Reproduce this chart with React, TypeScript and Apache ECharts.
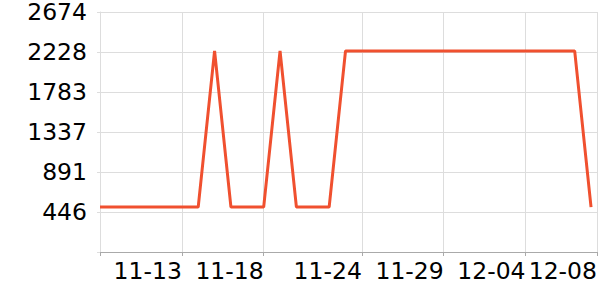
import React, { useEffect, useRef } from "react";
import * as echarts from "echarts";

const dates: string[] = [
  "2023-11-08", "2023-11-09", "2023-11-10", "2023-11-11", "2023-11-12",
  "2023-11-13", "2023-11-14", "2023-11-15", "2023-11-16", "2023-11-17",
  "2023-11-18", "2023-11-19", "2023-11-20", "2023-11-21", "2023-11-22",
  "2023-11-23", "2023-11-24", "2023-11-25", "2023-11-26", "2023-11-27",
  "2023-11-28", "2023-11-29", "2023-11-30", "2023-12-01", "2023-12-02",
  "2023-12-03", "2023-12-04", "2023-12-05", "2023-12-06", "2023-12-07",
  "2023-12-08",
];

const values: number[] = [
  500, 500, 500, 500, 500, 500, 500, 2240, 500, 500,
  500, 2240, 500, 500, 500, 2240, 2240, 2240, 2240, 2240,
  2240, 2240, 2240, 2240, 2240, 2240, 2240, 2240, 2240, 2240,
  500,
];

const tickDates: string[] = ["2023-11-13", "2023-11-18", "2023-11-24", "2023-11-29", "2023-12-04"];
const axisEndDate = "2023-12-08T08:44:00Z";

const yMax = 2674;
const ySteps = 6;

const ts = (s: string) => new Date(s.length === 10 ? s + "T00:00:00Z" : s).getTime();

export default function App() {
  const ref = useRef<HTMLDivElement>(null);
  useEffect(() => {
    if (!ref.current) return;
    document.body.style.margin = "0";
    const chart = echarts.init(ref.current, null, { renderer: "svg", width: 600, height: 300 });
    const xMin = ts(dates[0]);
    const xMax = ts(axisEndDate);
    const labelVals = [...tickDates.map(ts), xMax];
    const tickVals = [xMin, ...tickDates.map(ts), xMax];
    const fmt = (v: number) => {
      const d = new Date(v);
      const m = String(d.getUTCMonth() + 1).padStart(2, "0");
      const dd = String(d.getUTCDate()).padStart(2, "0");
      return `${m}-${dd}`;
    };
    chart.setOption({
      animation: false,
      grid: { left: 100, right: 0, top: 10, bottom: 48, containLabel: false },
      xAxis: {
        type: "value",
        min: xMin,
        max: xMax,
        axisLine: { show: true, lineStyle: { color: "#aaaaaa", width: 1 } },
        axisTick: { show: true, length: 4, lineStyle: { color: "#aaaaaa" }, customValues: tickVals },
        splitLine: { show: true, lineStyle: { color: "#dddddd", width: 1 } },
        axisLabel: {
          customValues: labelVals,
          formatter: (v: number) => fmt(v),
          align: "right",
          color: "#000",
          fontSize: 23.5,
          fontFamily: "DejaVu Sans",
          margin: 7,
        },
      },
      yAxis: {
        type: "value",
        min: 0,
        max: yMax,
        interval: yMax / ySteps,
        axisLine: { show: true, lineStyle: { color: "#dddddd" } },
        axisTick: { show: true, length: 3, lineStyle: { color: "#dddddd" } },
        splitLine: { show: true, lineStyle: { color: "#dddddd" } },
        axisLabel: {
          formatter: (v: number) => (v === 0 ? "" : String(Math.round(v))),
          color: "#000",
          fontSize: 23.5,
          fontFamily: "DejaVu Sans",
          margin: 13,
        },
      },
      series: [
        {
          type: "line",
          data: dates.map((d, i) => [ts(d), values[i]]),
          showSymbol: false,
          symbol: "none",
          lineStyle: { color: "#f0502f", width: 3 },
          itemStyle: { color: "#f0502f" },
        },
      ],
    });
    return () => chart.dispose();
  }, []);
  return <div ref={ref} style={{ width: 600, height: 300 }} />;
}
